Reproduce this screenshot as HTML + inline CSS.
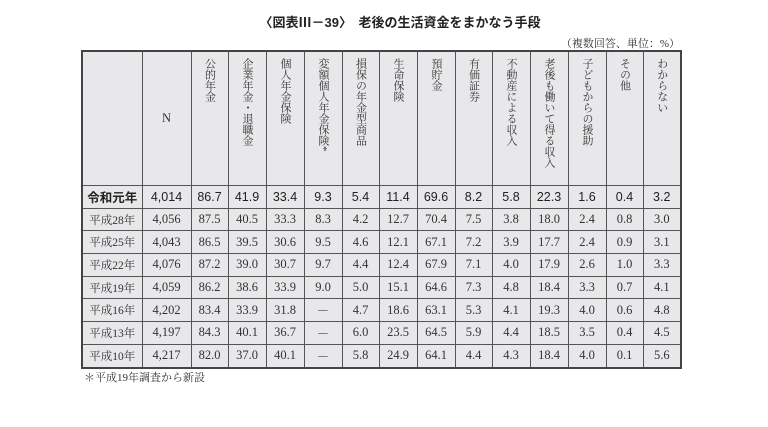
<!DOCTYPE html>
<html><head><meta charset="utf-8"><style>
body{margin:0;width:768px;height:427px;background:#fff;position:relative;overflow:hidden;font-family:"Liberation Serif","Noto Serif CJK SC",serif;color:#333}
.title{position:absolute;left:0;width:800px;top:12px;text-align:center;font-family:"Liberation Sans","Noto Sans CJK JP",sans-serif;font-weight:bold;font-size:13px;color:#222}
.unit{position:absolute;right:88px;top:35px;font-size:11px;color:#333}
table{position:absolute;left:81px;top:50px;border-collapse:collapse;table-layout:fixed;border:2px solid #444}
td{border:1px solid #555;background:#e8e8ea;text-align:center;padding:0;font-size:12.5px;height:21.7px;color:#333}
tr.h td{height:133px;vertical-align:top}
.v{writing-mode:vertical-rl;font-size:11px;line-height:12px;margin:6px auto 0;letter-spacing:0;white-space:nowrap;display:inline-block;color:#333}
tr.r1 td{font-family:"Liberation Sans","Noto Sans CJK JP",sans-serif;color:#222;font-size:12.5px}
tr.r1 td:first-child{font-weight:bold}
td.y{font-size:11.5px;letter-spacing:0}
.note{position:absolute;left:84px;top:369px;font-size:11px;color:#333}
</style></head><body>
<div class="title">〈図表Ⅲ－39〉　老後の生活資金をまかなう手段</div>
<div class="unit">（複数回答、単位：%）</div>
<table>
<colgroup><col style="width:60px"><col style="width:49px"><col style="width:37px"><col style="width:38px"><col style="width:38px"><col style="width:38px"><col style="width:37px"><col style="width:38px"><col style="width:38px"><col style="width:37px"><col style="width:38px"><col style="width:38px"><col style="width:38px"><col style="width:37px"><col style="width:38px"></colgroup>
<tr class="h"><td></td><td style="vertical-align:middle">N</td>
<td><span class="v">公的年金</span></td><td><span class="v">企業年金・退職金</span></td><td><span class="v">個人年金保険</span></td><td><span class="v">変額個人年金保険*</span></td><td><span class="v">損保の年金型商品</span></td><td><span class="v">生命保険</span></td><td><span class="v">預貯金</span></td><td><span class="v">有価証券</span></td><td><span class="v">不動産による収入</span></td><td><span class="v">老後も働いて得る収入</span></td><td><span class="v">子どもからの援助</span></td><td><span class="v">その他</span></td><td><span class="v">わからない</span></td></tr>
<tr class="r1"><td>令和元年</td><td>4,014</td><td>86.7</td><td>41.9</td><td>33.4</td><td>9.3</td><td>5.4</td><td>11.4</td><td>69.6</td><td>8.2</td><td>5.8</td><td>22.3</td><td>1.6</td><td>0.4</td><td>3.2</td></tr>
<tr><td class="y">平成28年</td><td>4,056</td><td>87.5</td><td>40.5</td><td>33.3</td><td>8.3</td><td>4.2</td><td>12.7</td><td>70.4</td><td>7.5</td><td>3.8</td><td>18.0</td><td>2.4</td><td>0.8</td><td>3.0</td></tr>
<tr><td class="y">平成25年</td><td>4,043</td><td>86.5</td><td>39.5</td><td>30.6</td><td>9.5</td><td>4.6</td><td>12.1</td><td>67.1</td><td>7.2</td><td>3.9</td><td>17.7</td><td>2.4</td><td>0.9</td><td>3.1</td></tr>
<tr><td class="y">平成22年</td><td>4,076</td><td>87.2</td><td>39.0</td><td>30.7</td><td>9.7</td><td>4.4</td><td>12.4</td><td>67.9</td><td>7.1</td><td>4.0</td><td>17.9</td><td>2.6</td><td>1.0</td><td>3.3</td></tr>
<tr><td class="y">平成19年</td><td>4,059</td><td>86.2</td><td>38.6</td><td>33.9</td><td>9.0</td><td>5.0</td><td>15.1</td><td>64.6</td><td>7.3</td><td>4.8</td><td>18.4</td><td>3.3</td><td>0.7</td><td>4.1</td></tr>
<tr><td class="y">平成16年</td><td>4,202</td><td>83.4</td><td>33.9</td><td>31.8</td><td>－</td><td>4.7</td><td>18.6</td><td>63.1</td><td>5.3</td><td>4.1</td><td>19.3</td><td>4.0</td><td>0.6</td><td>4.8</td></tr>
<tr><td class="y">平成13年</td><td>4,197</td><td>84.3</td><td>40.1</td><td>36.7</td><td>－</td><td>6.0</td><td>23.5</td><td>64.5</td><td>5.9</td><td>4.4</td><td>18.5</td><td>3.5</td><td>0.4</td><td>4.5</td></tr>
<tr><td class="y">平成10年</td><td>4,217</td><td>82.0</td><td>37.0</td><td>40.1</td><td>－</td><td>5.8</td><td>24.9</td><td>64.1</td><td>4.4</td><td>4.3</td><td>18.4</td><td>4.0</td><td>0.1</td><td>5.6</td></tr>
</table>
<div class="note">＊平成19年調査から新設</div>
</body></html>
